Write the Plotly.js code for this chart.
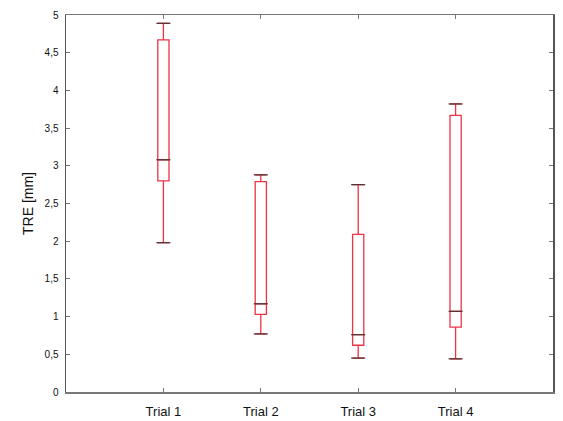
<!DOCTYPE html>
<html>
<head>
<meta charset="utf-8">
<script src="https://cdn.plot.ly/plotly-3.0.1.min.js"></script>
<style>html,body{margin:0;padding:0;background:#fff;}#chart{width:563px;height:421px;}</style>
</head>
<body>
<div id="chart"></div>
<script>
var categories = ["Trial 1", "Trial 2", "Trial 3", "Trial 4"];
var lowerWhisker = [1.98, 0.77, 0.45, 0.44];
var q1Values = [2.80, 1.03, 0.62, 0.86];
var medianValues = [3.08, 1.17, 0.76, 1.07];
var q3Values = [4.67, 2.79, 2.09, 3.67];
var upperWhisker = [4.89, 2.88, 2.75, 3.82];
var yTickVals = [0, 0.5, 1, 1.5, 2, 2.5, 3, 3.5, 4, 4.5, 5];

var boxTrace = {
  type: 'box',
  x: categories,
  q1: q1Values,
  median: medianValues,
  q3: q3Values,
  lowerfence: lowerWhisker,
  upperfence: upperWhisker,
  line: {color: '#ee3344', width: 1.3},
  fillcolor: 'rgba(255,255,255,0)',
  width: 0.115,
  whiskerwidth: 1,
  boxpoints: false,
  hoverinfo: 'skip',
  showlegend: false
};

var darkMarks = {
  type: 'scatter',
  mode: 'markers',
  x: categories.concat(categories, categories),
  y: medianValues.concat(lowerWhisker, upperWhisker),
  marker: {symbol: 'line-ew', size: 10, line: {color: '#553333', width: 1.3}},
  hoverinfo: 'skip',
  showlegend: false
};

var layout = {
  width: 563,
  height: 421,
  margin: {l: 66, r: 10, t: 15, b: 29},
  paper_bgcolor: '#ffffff',
  plot_bgcolor: '#ffffff',
  separators: ', ',
  font: {family: 'Liberation Sans, Arial, sans-serif', color: '#111'},
  xaxis: {
    type: 'category',
    range: [-1, 4],
    showgrid: false,
    zeroline: false,
    showline: true,
    linecolor: '#777',
    linewidth: 1.5,
    mirror: 'ticks',
    ticks: 'inside',
    ticklen: 4,
    tickcolor: '#777',
    ticklabelstandoff: 7,
    tickfont: {size: 13, color: '#111'},
    fixedrange: true
  },
  yaxis: {
    range: [0, 5],
    tickvals: yTickVals,
    showgrid: false,
    zeroline: false,
    showline: true,
    linecolor: '#555',
    linewidth: 1.5,
    mirror: 'ticks',
    ticks: 'inside',
    ticklen: 4,
    tickcolor: '#777',
    ticklabelstandoff: 4,
    tickfont: {size: 10, color: '#111'},
    title: {text: 'TRE [mm]', font: {size: 14, color: '#111'}, standoff: 7},
    fixedrange: true
  }
};

Plotly.newPlot('chart', [boxTrace, darkMarks], layout, {staticPlot: true});
</script>
</body>
</html>
